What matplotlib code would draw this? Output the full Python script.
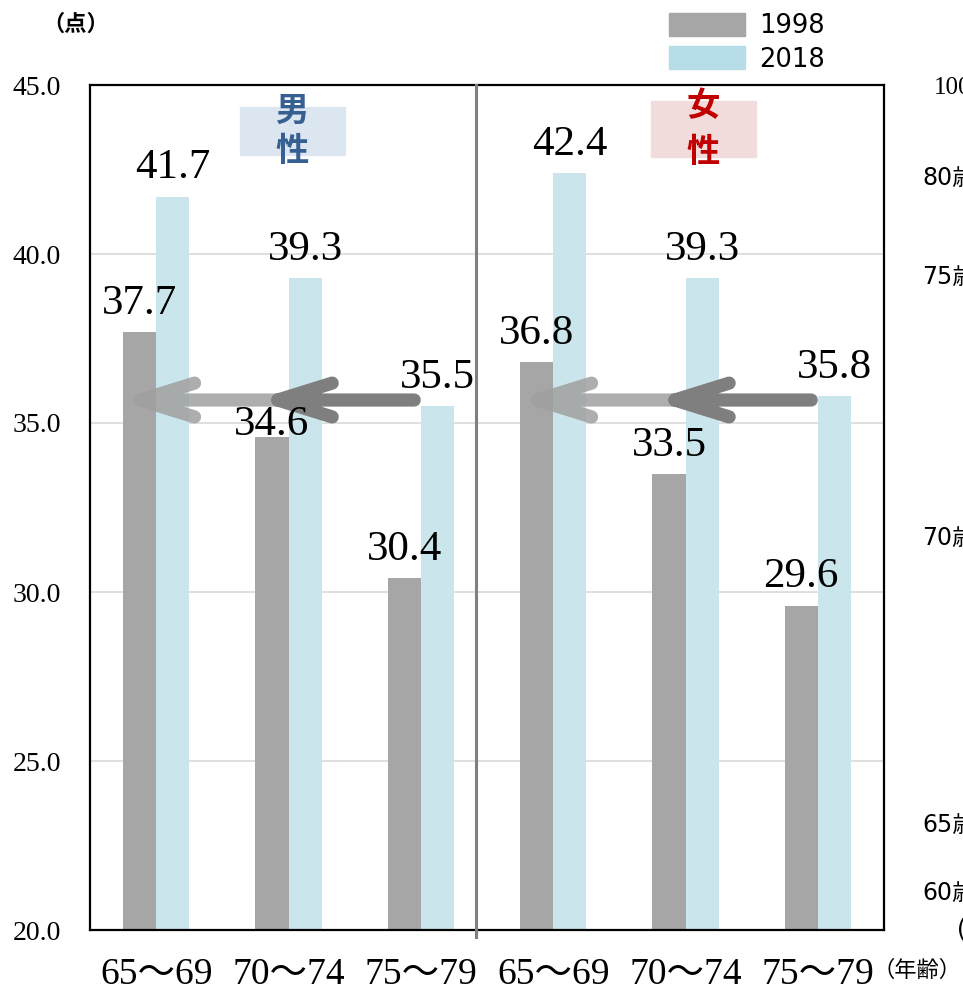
import matplotlib
matplotlib.use("Agg")
import numpy as np
import matplotlib.pyplot as plt
from matplotlib.patches import Patch, Rectangle

# data
ages = ["65〜69", "70〜74", "75〜79"]
male_1998 = [37.7, 34.6, 30.4]
male_2018 = [41.7, 39.3, 35.5]
female_1998 = [36.8, 33.5, 29.6]
female_2018 = [42.4, 39.3, 35.8]
years = ["1998", "2018"]
y_ticks = [20.0, 25.0, 30.0, 35.0, 40.0, 45.0]
side_labels = ["100", "80歳", "75歳", "70歳", "65歳", "60歳", "("]

c_1998 = "#a6a6a6"
c_2018_bar = "#cae6ec"
c_2018_leg = "#b7dde8"

SERIF = ["Liberation Serif", "Noto Sans CJK JP"]
SANS = ["DejaVu Sans", "Noto Sans CJK JP"]
CJK = ["Noto Sans CJK JP", "DejaVu Sans"]
plt.rcParams["font.family"] = SERIF

W, H = 963, 993
fig = plt.figure(figsize=(W / 100, H / 100), dpi=100)
ax = fig.add_axes([90 / W, 1 - 930 / H, (884 - 90) / W, (930 - 85) / H])

labels = ages + ages
v98 = male_1998 + female_1998
v18 = male_2018 + female_2018
x = np.arange(len(labels))
bw = 0.25

ax.bar(x - bw / 2, v98, bw, bottom=0, color=c_1998, zorder=2)
ax.bar(x + bw / 2, v18, bw, bottom=0, color=c_2018_bar, zorder=2)

ax.set_xlim(-0.5, 5.5)
ax.set_ylim(20, 45)
ax.set_yticks(y_ticks)
ax.set_yticklabels([f"{t:.1f}" for t in y_ticks], fontsize=20, family=SERIF)
ax.set_xticks(x)
ax.set_xticklabels(labels, fontsize=27, family=SERIF)
ax.tick_params(axis="both", length=0)
ax.tick_params(axis="y", pad=21)
ax.tick_params(axis="x", pad=20)
ax.grid(axis="y", color="#d9d9d9", lw=1.2, zorder=0)
for s in ax.spines.values():
    s.set_linewidth(1.6)
    s.set_color("black")

# divider between men and women
ax.plot([2.42, 2.42], [20 - 0.2, 45], color="#808080", lw=2.2, clip_on=False, zorder=3)

# value labels
for i in range(len(labels)):
    for off, v in ((-bw / 2, v98[i]), (bw / 2, v18[i])):
        dy = 13
        if i == 1 and off < 0:
            dy = 1
        ax.annotate(f"{v:.1f}", (x[i] + off, v), xytext=(0, dy),
                    textcoords="offset points", ha="center", va="baseline",
                    fontsize=31, family=SERIF, zorder=6)


# arrows: 75-79 in 2018 ~ 65-69 in 1998
def arrow(tail, tip, y, color, alpha, z):
    dx, dy = 0.41, 0.5
    ax.plot([tail, tip, tip + dx, np.nan, tip, tip + dx],
            [y, y, y + dy, np.nan, y, y - dy],
            color=color, alpha=alpha, lw=9.5, solid_capstyle="round",
            solid_joinstyle="round", zorder=z)


arrow_y = 35.68
for g in (0, 3):
    arrow(g + 1.0, g - 0.12, arrow_y, "#a0a0a0", 0.85, 4)
    arrow(g + 1.95, g + 0.92, arrow_y, "#7f7f7f", 1.0, 5)

# gender boxes
fig.patches.append(Rectangle((240 / W, 1 - 155 / H), 105 / W, 48 / H,
                             transform=fig.transFigure, color="#dce6f1", zorder=1))
fig.text(292 / W, 1 - 111 / H, "男", color="#366092", fontsize=24, weight="bold",
         family=CJK, ha="center", va="center")
fig.text(292 / W, 1 - 152 / H, "性", color="#366092", fontsize=24, weight="bold",
         family=CJK, ha="center", va="center")
fig.patches.append(Rectangle((651 / W, 1 - 157 / H), 105 / W, 56 / H,
                             transform=fig.transFigure, color="#f2dcdb", zorder=1))
fig.text(703 / W, 1 - 107 / H, "女", color="#c00000", fontsize=24, weight="bold",
         family=CJK, ha="center", va="center")
fig.text(703 / W, 1 - 153 / H, "性", color="#c00000", fontsize=24, weight="bold",
         family=CJK, ha="center", va="center")

# legend
handles = [Patch(color=c_1998), Patch(color=c_2018_leg)]
fig.legend(handles, years, loc="upper left", bbox_to_anchor=(669 / W, 1 - 13 / H),
           frameon=False, borderpad=0, borderaxespad=0, handlelength=2.95,
           handleheight=1.0, handletextpad=0.55, labelspacing=0.28,
           prop={"family": SANS, "size": 18.5})

# unit labels
fig.text(76 / W, 1 - 24 / H, "（点）", fontsize=16, weight="bold", family=CJK,
         ha="center", va="center")
fig.text(961 / W, 1 - 970 / H, "（年齢）", fontsize=16, family=CJK,
         ha="right", va="center")

# cut-off labels of the neighbouring chart (clipped at the right edge as in the source)
side_px = [88, 178, 277, 538, 825, 893, 930]
for lab, yy in zip(side_labels, side_px):
    if lab == "100":
        fig.text(934 / W, 1 - yy / H, lab, fontsize=18, family=SERIF, va="center")
    elif lab == "(":
        fig.text(957 / W, 1 - yy / H, lab, fontsize=17, family=SANS, va="center")
    else:
        fig.text(922 / W, 1 - yy / H, lab, fontsize=17, family=SANS, va="center")

fig.savefig("out.png", dpi=100)
